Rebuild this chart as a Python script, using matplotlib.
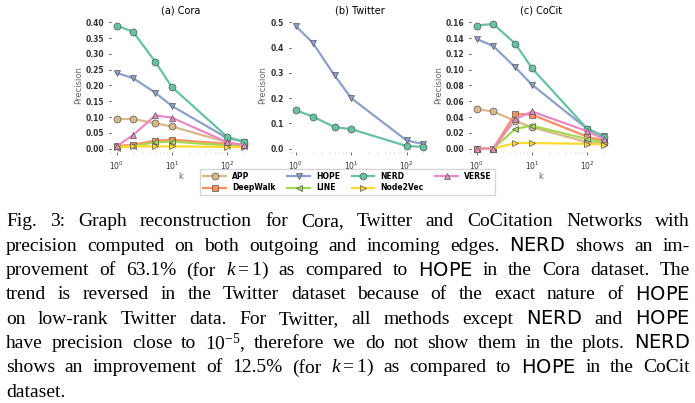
import re
import numpy as np
import matplotlib.pyplot as plt

plt.rcParams['mathtext.fontset'] = 'custom'
plt.rcParams['mathtext.rm'] = 'Liberation Serif'
plt.rcParams['mathtext.it'] = 'Liberation Serif:italic'
plt.rcParams['mathtext.sf'] = 'DejaVu Sans'

k = [1, 2, 5, 10, 100, 200]

methods = ['APP', 'DeepWalk', 'HOPE', 'LINE', 'NERD', 'Node2Vec', 'VERSE']
colors = {'APP': '#d9b98a', 'DeepWalk': '#fc8d62', 'HOPE': '#8da0cb', 'LINE': '#a6d854',
          'NERD': '#66c2a5', 'Node2Vec': '#ffd92f', 'VERSE': '#e78ac3'}
markers = {'APP': 'o', 'DeepWalk': 's', 'HOPE': 'v', 'LINE': '<',
           'NERD': 'o', 'Node2Vec': '>', 'VERSE': '^'}

cora = {
    'APP': [0.093, 0.094, 0.080, 0.070, 0.020, 0.010],
    'DeepWalk': [0.008, 0.012, 0.025, 0.028, 0.015, 0.012],
    'HOPE': [0.240, 0.223, 0.177, 0.135, 0.033, 0.022],
    'LINE': [0.003, 0.008, 0.020, 0.022, 0.010, 0.008],
    'NERD': [0.390, 0.370, 0.275, 0.195, 0.037, 0.022],
    'Node2Vec': [0.005, 0.007, 0.007, 0.007, 0.005, 0.005],
    'VERSE': [0.007, 0.043, 0.105, 0.098, 0.020, 0.010],
}
twitter = {
    'HOPE': [0.485, 0.420, 0.290, 0.200, 0.032, 0.018],
    'NERD': [0.152, 0.127, 0.085, 0.077, 0.010, 0.007],
}
cocit = {
    'APP': [0.050, 0.047, 0.035, 0.027, 0.008, 0.007],
    'DeepWalk': [0.000, 0.000, 0.044, 0.043, 0.015, 0.010],
    'HOPE': [0.139, 0.130, 0.103, 0.081, 0.025, 0.016],
    'LINE': [0.000, 0.000, 0.025, 0.029, 0.012, 0.008],
    'NERD': [0.156, 0.158, 0.133, 0.102, 0.025, 0.015],
    'Node2Vec': [0.000, 0.000, 0.007, 0.007, 0.006, 0.005],
    'VERSE': [0.000, 0.000, 0.037, 0.047, 0.022, 0.012],
}

panels = [('(a) Cora', cora, [0, 0.05, 0.10, 0.15, 0.20, 0.25, 0.30, 0.35, 0.40], '{:.2f}'),
          ('(b) Twitter', twitter, [0, 0.1, 0.2, 0.3, 0.4, 0.5], '{:.1f}'),
          ('(c) CoCit', cocit, [0, 0.02, 0.04, 0.06, 0.08, 0.10, 0.12, 0.14, 0.16], '{:.2f}')]

fig = plt.figure(figsize=(6.95, 4.03), dpi=100)
lefts = [0.160, 0.418, 0.678]
handles = {}
for (title, data, yt, fmt), l in zip(panels, lefts):
    ax = fig.add_axes([l, 0.622, 0.200, 0.335])
    for m in methods:
        if m in data:
            h, = ax.plot(k, data[m], color=colors[m], marker=markers[m], ms=5, lw=1.6,
                         markeredgecolor='#555555', markeredgewidth=0.5)
            handles[m] = h
    ax.set_xscale('log')
    ax.set_yticks(yt)
    ax.set_yticklabels([fmt.format(v) for v in yt], fontsize=5.5, fontweight='bold', color='#333333')
    ax.tick_params(axis='x', labelsize=5.5, colors='#333333', length=2, width=0.5)
    ax.tick_params(axis='x', which='minor', length=1, width=0.4, colors='#aaaaaa')
    ax.tick_params(axis='y', length=1.5, width=0.5)
    for s in ax.spines.values():
        s.set_visible(False)
    ax.set_ylabel('Precision', fontsize=6, color='#666666', labelpad=2)
    ax.set_xlabel('k', fontsize=6, color='#666666', labelpad=0)
    ax.set_title(title, fontsize=7, pad=3)
    ax.set_xlim(0.8, 260)
    ax.set_ylim(-yt[-1] * 0.03, yt[-1] * 1.04)

fig.legend([handles[m] for m in methods], methods, ncol=4, loc='center',
           bbox_to_anchor=(0.500, 0.548), prop={'weight': 'bold', 'size': 5.5},
           handlelength=3, columnspacing=1.5, labelspacing=0.3, borderpad=0.4, fancybox=False,
           edgecolor='#cccccc')

caption = [
    r'Fig. 3: Graph reconstruction for Cora, Twitter and CoCitation Networks with',
    r'precision computed on both outgoing and incoming edges. $\mathsf{NERD}$ shows an im-',
    r'provement of 63.1% (for $k=1$) as compared to $\mathsf{HOPE}$ in the Cora dataset. The',
    r'trend is reversed in the Twitter dataset because of the exact nature of $\mathsf{HOPE}$',
    r'on low-rank Twitter data. For Twitter, all methods except $\mathsf{NERD}$ and $\mathsf{HOPE}$',
    r'have precision close to $10^{-5}$, therefore we do not show them in the plots. $\mathsf{NERD}$',
    r'shows an improvement of 12.5% (for $k=1$) as compared to $\mathsf{HOPE}$ in the CoCit',
    r'dataset.',
]

renderer = fig.canvas.get_renderer()
x_left, x_right = 6, 690
y0 = 222
for i, line in enumerate(caption):
    y = 1 - (y0 + i * 24.3) / 403
    words = line.split(' ')
    last = i == len(caption) - 1
    texts = [fig.text(0, y, w, fontsize=14, family='Liberation Serif', va='center', ha='left')
             for w in words]
    widths = [t.get_window_extent(renderer).width for t in texts]
    space = 14 * 0.25 * 100 / 72
    if not last and len(words) > 1:
        space = (x_right - x_left - sum(widths)) / (len(words) - 1)
    x = x_left
    for t, w in zip(texts, widths):
        t.set_x(x / 695)
        x += w + space

fig.savefig('out.png', dpi=100)
